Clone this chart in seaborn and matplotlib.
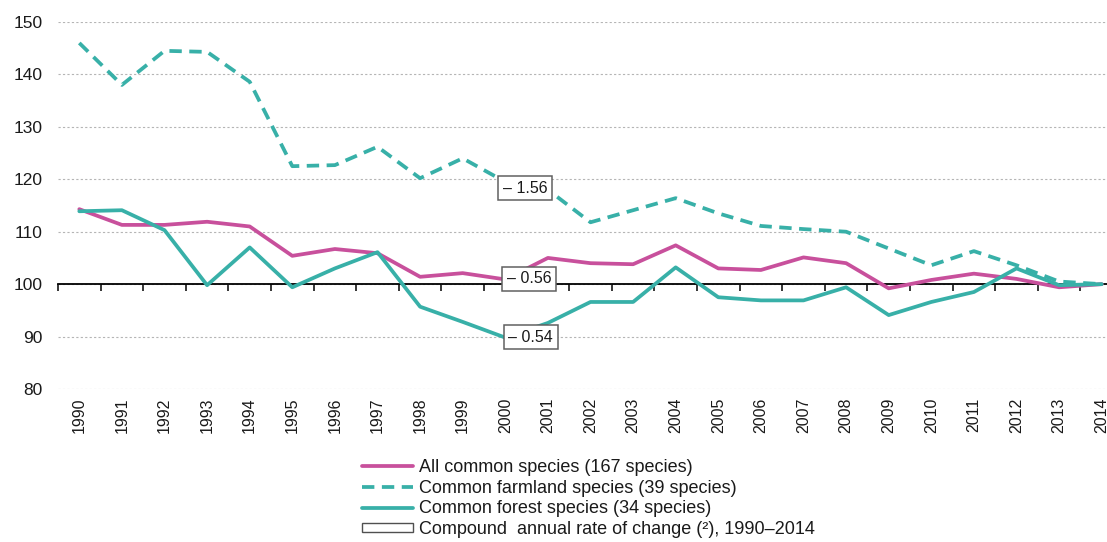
import numpy as np
import matplotlib
matplotlib.use('Agg')
import matplotlib.pyplot as plt
import seaborn as sns
from matplotlib.patches import Patch

# data (index, 1990 = 100 at 2014)
years = [str(y) for y in range(1990, 2015)]
all_common = [114.3, 111.3, 111.3, 111.9, 111.0, 105.4, 106.7, 105.9, 101.4, 102.1,
              100.9, 105.0, 104.0, 103.8, 107.4, 103.0, 102.7, 105.1, 104.0, 99.2,
              100.8, 102.0, 101.0, 99.4, 100.0]
farmland = [146.0, 138.0, 144.5, 144.3, 138.6, 122.5, 122.7, 126.2, 120.2, 124.0,
            119.5, 118.0, 111.8, 114.1, 116.4, 113.5, 111.1, 110.5, 110.0, 106.8,
            103.6, 106.3, 103.6, 100.5, 100.0]
forest = [113.9, 114.1, 110.3, 99.8, 107.0, 99.4, 103.0, 106.1, 95.7, 92.8,
          89.8, 92.6, 96.6, 96.6, 103.2, 97.5, 96.9, 96.9, 99.4, 94.1,
          96.6, 98.5, 103.0, 99.8, 100.0]
series_labels = ['All common species (167 species)',
                 'Common farmland species (39 species)',
                 'Common forest species (34 species)',
                 'Compound  annual rate of change (\u00b2), 1990\u20132014']
rate_labels = ['\u2013 1.56', '\u2013 0.56', '\u2013 0.54']
rate_pos = [(10.47, 118.3), (10.56, 101.0), (10.6, 89.9)]

magenta = '#c8509c'
teal = '#38b0a8'
txt = '#1a1a1a'

sns.set_theme(style='white')
plt.rcParams['font.family'] = ['Liberation Sans', 'DejaVu Sans']

fig = plt.figure(figsize=(11.07, 5.42), dpi=100)
ax = fig.add_axes([58 / 1107, (542 - 389) / 542, 1065 / 1107, (389 - 22) / 542])

idx = np.arange(len(years))
sns.lineplot(x=idx, y=all_common, color=magenta, lw=2.7, ax=ax)
sns.lineplot(x=idx, y=farmland, color=teal, lw=2.7, linestyle=(0, (3.3, 2.0)), ax=ax)
sns.lineplot(x=idx, y=forest, color=teal, lw=2.7, ax=ax)

ax.set_xlim(-0.5, len(years) - 0.5)
ax.set_ylim(80, 150)
ax.set_yticks(np.arange(80, 151, 10))
ax.yaxis.grid(True, color='#b5b5b5', linestyle=(0, (2, 2)), lw=0.8)
ax.set_axisbelow(True)
ax.tick_params(axis='y', length=0, pad=11, labelsize=12.5, labelcolor=txt)

for s in ['top', 'right', 'left']:
    ax.spines[s].set_visible(False)
ax.spines['bottom'].set_position(('data', 100))
ax.spines['bottom'].set_color('black')
ax.spines['bottom'].set_linewidth(1.3)
ax.spines['bottom'].set_zorder(1.5)
ax.set_xticks(np.arange(-0.5, len(years), 1.0))
ax.set_xticklabels([])
ax.tick_params(axis='x', bottom=True, direction='out', length=5, width=1.1, color='black')

sec = ax.secondary_xaxis(0)
sec.set_xticks(idx, labels=years, rotation=90)
sec.tick_params(length=0, pad=6, labelsize=11.5, labelcolor=txt)
sec.spines['bottom'].set_visible(False)
ax.set_xlabel('')
ax.set_ylabel('')

for lab, (xp, yp) in zip(rate_labels, rate_pos):
    ax.text(xp, yp, lab, ha='center', va='center', fontsize=11.5, color=txt, zorder=5,
            bbox=dict(boxstyle='square,pad=0.3', fc='white', ec='#606060', lw=1.1))

lines = ax.get_lines()
handles = [lines[0], lines[1], lines[2],
           Patch(facecolor='white', edgecolor='#505050', lw=1.0)]
leg = ax.legend(handles, series_labels, loc='upper left',
                bbox_to_anchor=(362 / 1107, 1 - 459 / 542),
                bbox_transform=fig.transFigure, frameon=False, fontsize=13,
                handlelength=2.85, handleheight=0.45, handletextpad=0.3,
                labelspacing=0.2, borderpad=0, borderaxespad=0)
for t in leg.get_texts():
    t.set_color(txt)

fig.savefig('out.png', dpi=100)
